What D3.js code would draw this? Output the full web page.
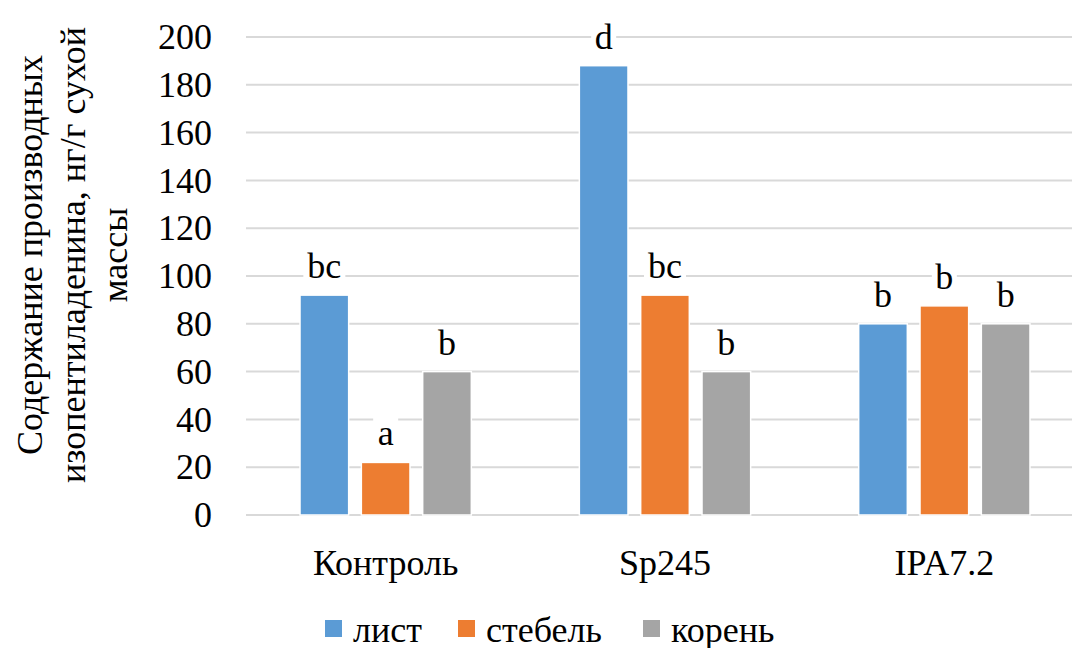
<!DOCTYPE html>
<html>
<head>
<meta charset="utf-8">
<script src="https://cdn.jsdelivr.net/npm/d3@7"></script>
<style>
  text { font-family: "Times New Roman", "Liberation Serif", Tinos, serif !important; }
</style>
</head>
<body style="margin:0">
<svg width="1072" height="648" font-family="Liberation Serif"></svg>
<script>
var categories = ["Контроль", "Sp245", "IPA7.2"];
var series = ["лист", "стебель", "корень"];
var values = {
    "лист":    [92, 188, 80],
    "стебель": [22, 92, 87.5],
    "корень":  [60, 60, 80]
};
var letters = {
    "лист":    ["bc", "d", "b"],
    "стебель": ["a", "bc", "b"],
    "корень":  ["b", "b", "b"]
};
var yTicks = [0, 20, 40, 60, 80, 100, 120, 140, 160, 180, 200];
var titleLines = ["Содержание производных", "изопентиладенина, нг/г сухой", "массы"];

var colors = {"лист": "#5B9BD5", "стебель": "#ED7D31", "корень": "#A5A5A5"};

var svg = d3.select("svg");

var x0 = d3.scaleBand()
    .domain(categories)
    .range([246, 1084])
    .padding(0);

var x1 = d3.scaleBand()
    .domain(series)
    .range([0, 171.3])
    .paddingInner(0.207)
    .paddingOuter(0);

var y = d3.scaleLinear()
    .domain([0, 200])
    .range([515, 37]);

// gridlines
svg.append("g")
    .selectAll("line")
    .data(yTicks)
    .enter().append("line")
    .attr("x1", 246)
    .attr("x2", 1072)
    .attr("y1", function(d) { return y(d); })
    .attr("y2", function(d) { return y(d); })
    .attr("stroke", "#D9D9D9")
    .attr("stroke-width", 2);

// y tick labels
svg.append("g")
    .selectAll("text")
    .data(yTicks)
    .enter().append("text")
    .attr("x", 212)
    .attr("y", function(d) { return y(d); })
    .attr("dy", "0.34em")
    .attr("text-anchor", "end")
    .attr("font-family", "Liberation Serif")
    .attr("font-size", 36)
    .text(function(d) { return d; });

// bars
var rows = [];
categories.forEach(function(c, i) {
    series.forEach(function(s) {
        rows.push({cat: c, ser: s, val: values[s][i], lab: letters[s][i]});
    });
});

var groups = svg.append("g")
    .selectAll("g")
    .data(categories)
    .enter().append("g")
    .attr("transform", function(d) { return "translate(" + (x0(d) + (x0.bandwidth() - 171.3) / 2) + ",0)"; });

groups.selectAll("rect")
    .data(function(c) { return rows.filter(function(r) { return r.cat == c; }); })
    .enter().append("rect")
    .attr("x", function(d) { return x1(d.ser); })
    .attr("y", function(d) { return y(d.val); })
    .attr("width", x1.bandwidth())
    .attr("height", function(d) { return y(0) - y(d.val); })
    .attr("fill", function(d) { return colors[d.ser]; })
    .attr("stroke", "#fff")
    .attr("stroke-width", 1.5);

// data labels with white box behind
var labels = groups.selectAll("g.lab")
    .data(function(c) { return rows.filter(function(r) { return r.cat == c; }); })
    .enter().append("g")
    .attr("class", "lab")
    .attr("transform", function(d) { return "translate(" + (x1(d.ser) + x1.bandwidth() / 2) + "," + (y(d.val) - 17) + ")"; });

labels.append("rect")
    .attr("fill", "#fff")
    .attr("x", function(d) { return -(d.lab.length * 17 + 8) / 2; })
    .attr("y", -28)
    .attr("width", function(d) { return d.lab.length * 17 + 8; })
    .attr("height", 36);

labels.append("text")
    .attr("text-anchor", "middle")
    .attr("font-family", "Liberation Serif")
    .attr("font-size", 36)
    .text(function(d) { return d.lab; });

// x labels
svg.append("g")
    .selectAll("text")
    .data(categories)
    .enter().append("text")
    .attr("x", function(d) { return x0(d) + x0.bandwidth() / 2; })
    .attr("y", 575)
    .attr("text-anchor", "middle")
    .attr("font-family", "Liberation Serif")
    .attr("font-size", 36)
    .text(function(d) { return d; });

// y title
svg.append("g")
    .selectAll("text")
    .data(titleLines)
    .enter().append("text")
    .attr("transform", function(d, i) { return "translate(" + (42 + i * 42.5) + ",255) rotate(-90)"; })
    .attr("text-anchor", "middle")
    .attr("font-family", "Liberation Serif")
    .attr("font-size", 36)
    .text(function(d) { return d; });

// legend
var legendX = [325, 458, 643];
var legend = svg.append("g")
    .selectAll("g")
    .data(series)
    .enter().append("g")
    .attr("transform", function(d, i) { return "translate(" + legendX[i] + ",620)"; });

legend.append("rect")
    .attr("width", 17)
    .attr("height", 17)
    .attr("fill", function(d) { return colors[d]; });

legend.append("text")
    .attr("x", 28)
    .attr("y", 22)
    .attr("font-family", "Liberation Serif")
    .attr("font-size", 36)
    .text(function(d) { return d; });
</script>
</body>
</html>
